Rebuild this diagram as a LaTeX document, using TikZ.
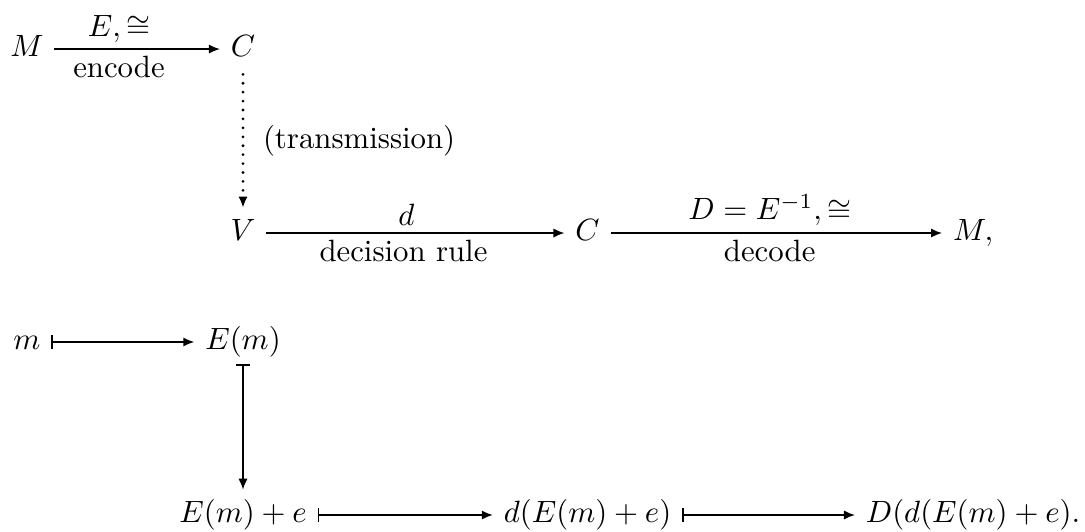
\documentclass[tikz,border=0pt]{standalone}
\usepackage{amsmath,amssymb}
\usepackage{tikz}
\usetikzlibrary{arrows.meta,positioning}

\begin{document}
\begin{tikzpicture}[node distance=2cm, on grid, obj/.style={text height=7.5pt, text depth=2.5pt, inner xsep=3.33pt, inner ysep=3pt}, lbl/.style={inner sep=2pt}, arrow/.style={-{Latex[length=3.6pt,width=3pt]}, line width=0.6pt}, mapsto/.style={{Bar[width=4.5pt]}-{Latex[length=3.6pt,width=3pt]}, line width=0.6pt}, trans/.style={-{Latex[length=3.6pt,width=3pt]}, line width=1pt, line cap=round, dash pattern=on 0pt off 2.9pt}]
\useasboundingbox (0,0) rectangle (12.386,-6.062);
% upper diagram: the sets
\node[obj] (M) at (0.308,-0.56) {$M$};
\node[obj, right=2.466cm of M] (C) {$C$};
\node[obj, below=2.1cm of C] (V) {$V$};
\node[obj, right=3.933cm of V] (Cd) {$C$};
\node[obj, right=4.401cm of Cd] (Mout) {$M,$};
% lower diagram: the elements
\node[obj, below=3.344cm of M] (m) {$m$};
\node[obj, right=2.466cm of m] (Em) {$E(m)$};
\node[obj, below=1.975cm of Em] (Eme) {$E(m)+e$};
\node[obj, right=3.933cm of Eme] (dEme) {$d(E(m)+e)$};
\node[obj, right=4.401cm of dEme] (DdEme) {$D(d(E(m)+e).$};
\draw[arrow] (M) -- node[lbl, above, pos=0.39] {$E,\cong$} node[lbl, below, pos=0.39] {encode} (C);
\draw[trans] (C) -- node[lbl, right=4pt] {(transmission)} (V);
\draw[arrow] (V) -- node[lbl, above, pos=0.47] {$d$} node[lbl, below, pos=0.46] {decision rule} (Cd);
\draw[arrow] (Cd) -- node[lbl, above, pos=0.48] {$D=E^{-1},\cong$} node[lbl, below, pos=0.48] {decode} (Mout);
\draw[mapsto] (m) -- (Em);
\draw[mapsto, shorten <=-1pt] (Em) -- (Eme);
\draw[mapsto] (Eme) -- (dEme);
\draw[mapsto] (dEme) -- (DdEme);
\end{tikzpicture}
\end{document}
